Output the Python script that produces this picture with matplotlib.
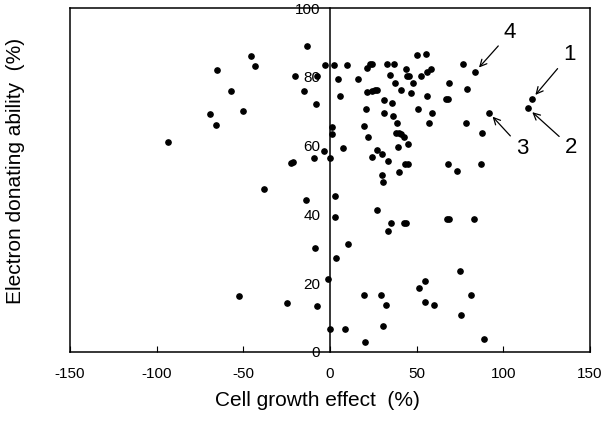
import matplotlib
matplotlib.use("Agg")
import matplotlib.pyplot as plt

plt.rcParams['font.family'] = ['Liberation Sans', 'DejaVu Sans']

# cell growth effect (%) and electron donating ability (%)
growth = [116.4, 114.3, 91.6, 83.8,
          -13.4, -45.8, -43.3, -65.0, -57.0, -50.2, -69.2, -65.8, -93.3, -20.4,
          -7.3, -3.1, 2.5, 9.6, 4.8, -15.2, 5.9, -8.3, 1.2, 1.2,
          7.5, -3.5, 0.2, -9.1, -22.5, -21.2,
          16.0, 21.2, 23.1, 24.1, 32.7, 37.1, 34.6, 43.9, 44.6, 45.8,
          50.4, 55.2, 52.5, 56.1, 58.5, 37.5, 48.1, 21.2, 24.1, 26.0,
          27.3, 41.0, 46.7, 56.1, 31.2, 35.6, 68.8, 76.9, 79.2, 66.9,
          68.3, 20.8, 31.3, 36.2, 50.6, 59.0, 57.0, 38.5, 19.4, 78.3,
          22.1, 37.9, 39.6, 41.0, 42.7, 45.0, 39.4, 87.9, 26.9, 29.8,
          24.4, 33.3, 43.1, 45.2, 40.0, 30.2, 68.3, 73.3, 87.1,
          30.4, 2.9, 27.3, 2.7, 35.4, 42.7, 43.9, 33.3, 67.3, 68.7,
          83.3, 10.6, 3.3, 75.0, 54.8, 51.4, 19.8, 29.6, 32.1, 54.6,
          59.8, 81.5, 75.6, 0.0, 8.8, 30.8, 20.2, 88.9,
          -37.9, -13.8, -8.7, -1.3, -52.3, -24.6, -7.5]
donating = [73.5, 70.8, 69.6, 81.5,
            89.0, 86.0, 83.1, 82.0, 76.0, 70.1, 69.1, 66.1, 61.1, 80.1,
            80.1, 83.3, 83.3, 83.3, 79.3, 76.0, 74.3, 72.2, 65.5, 63.4,
            59.4, 58.4, 56.5, 56.3, 55.0, 55.1,
            79.3, 82.5, 83.6, 83.7, 83.6, 83.6, 80.5, 82.3, 80.2, 80.2,
            86.3, 86.5, 80.2, 81.5, 82.4, 78.3, 78.3, 75.6, 76.0, 76.2,
            76.1, 76.2, 75.4, 74.5, 73.3, 72.5, 78.3, 83.7, 76.4, 73.5,
            73.5, 70.5, 69.4, 68.6, 70.5, 69.4, 66.7, 66.5, 65.7, 66.6,
            62.5, 63.8, 63.7, 63.3, 62.4, 60.4, 59.7, 63.7, 58.7, 57.6,
            56.6, 55.5, 54.6, 54.6, 52.4, 51.5, 54.6, 52.7, 54.7,
            49.3, 45.4, 41.4, 39.3, 37.4, 37.4, 37.4, 35.3, 38.6, 38.6,
            38.7, 31.4, 27.4, 23.6, 20.6, 18.5, 16.5, 16.5, 13.6, 14.5,
            13.7, 16.6, 10.7, 6.8, 6.7, 7.6, 2.8, 3.7,
            47.4, 44.1, 30.2, 21.3, 16.4, 14.3, 13.5]

# numbered compounds: index into the arrays and label offset (points)
labels = ["1", "2", "3", "4"]
label_idx = [0, 1, 2, 3]
label_off = [(27, 32), (31, -28), (24, -26), (25, 28)]

xticks = [-150, -100, -50, 0, 50, 100, 150]
yticks = [0, 20, 40, 60, 80, 100]

fig = plt.figure(figsize=(6.14, 4.23), dpi=100)
ax = fig.add_axes([0.114, 0.168, 0.847, 0.813])

ax.plot(growth, donating, 'o', color='black', markersize=3.8, linestyle='none')

ax.set_xlim(-150, 150)
ax.set_ylim(0, 100)
ax.set_xticks(xticks)
ax.set_xticklabels([str(t) for t in xticks], fontsize=11)
ax.tick_params(axis='x', direction='in', length=4, width=0.8, pad=11, top=False)
ax.set_yticks([])
for sp in ax.spines.values():
    sp.set_linewidth(1.1)

# y axis drawn through x = 0, labels on its left side
yax = ax.secondary_yaxis(0.5)
yax.set_yticks(yticks)
yax.set_yticklabels([str(t) for t in yticks], fontsize=11)
yax.tick_params(length=0, pad=7, left=True, labelleft=True,
                right=False, labelright=False)
for sp in yax.spines.values():
    sp.set_linewidth(1.1)

for lab, i, off in zip(labels, label_idx, label_off):
    ax.annotate(lab, xy=(growth[i], donating[i]), xytext=off,
                textcoords='offset points', ha='center', va='center',
                fontsize=16, annotation_clip=False,
                arrowprops=dict(arrowstyle='->', color='black', lw=0.9,
                                shrinkA=3, shrinkB=4,
                                mutation_scale=12))

fig.text(0.517, 0.054, "Cell growth effect  (%)", fontsize=15,
         ha='center', va='center')
fig.text(0.025, 0.596, "Electron donating ability  (%)", rotation=90,
         fontsize=15, ha='center', va='center')

fig.savefig("out.png", dpi=100)
